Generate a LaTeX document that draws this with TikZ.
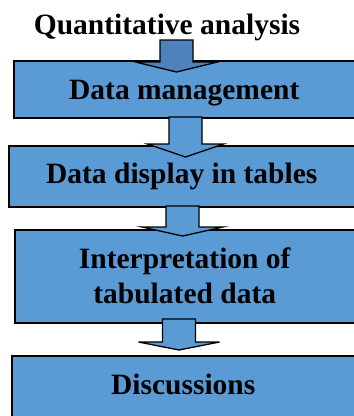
\documentclass[tikz,border=0pt]{standalone}
\usepackage{fontspec}
\setmainfont{Liberation Serif}
\usetikzlibrary{calc}

\definecolor{boxblue}{HTML}{5B9BD5}
\definecolor{darkblue}{HTML}{4F81BD}

\tikzset{
  lbl/.style={font=\bfseries\fontsize{29.5}{35}\selectfont, inner sep=0pt},
  box/.style={lbl, draw=black, line width=1.5pt, fill=boxblue,
              anchor=north west, align=center},
  flowarrow/.style={draw=black, line width=1.3pt, line join=miter},
}

% block arrow: shaft from #1 down to the head base, head ending at #2
% #3 = head depth, #4 = head half-width, #5 = fill colour
\newcommand\blockarrow[5]{%
  \filldraw[flowarrow, fill=#5] let \p1=(#1), \p2=(#2) in
    (\x1-16.5pt,\y1) -- (\x1+16.5pt,\y1) -- (\x1+16.5pt,\y2+#3) --
    (\x1+#4,\y2+#3) -- (\x2,\y2) -- (\x1-#4,\y2+#3) --
    (\x1-16.5pt,\y2+#3) -- cycle;}

\begin{document}
\begin{tikzpicture}[x=1pt, y=-1pt]
  \useasboundingbox (0,0) rectangle (354,416);

  \node[lbl, anchor=base] (qa) at (167,34) {Quantitative analysis};

  \node[box, minimum width=341pt, minimum height=57pt,
        text height=21pt, text depth=0pt] (b1) at (13,60) {Data management};
  \node[box, minimum width=346pt, minimum height=61pt,
        text height=20pt, text depth=5pt] (b2) at (8,145) {Data display in tables};
  \node[box, minimum width=340pt, minimum height=93pt] (b3) at (14,229)
        {Interpretation of\\tabulated data};
  \node[box, minimum width=343pt, minimum height=63pt,
        text height=20pt, text depth=5pt] (b4) at (11,355) {Discussions};

  % arrow start and tip points
  \coordinate (s1) at (176.5,40);  \coordinate (e1) at (176.5,72);
  \coordinate (s2) at (185.5,117); \coordinate (e2) at (185.5,157);
  \coordinate (s3) at (182.5,206); \coordinate (e3) at (182.5,236);
  \coordinate (s4) at (179,319);   \coordinate (e4) at (179,350);

  \blockarrow{s1}{e1}{10pt}{41pt}{darkblue}
  \blockarrow{s2}{e2}{13pt}{38pt}{boxblue}
  \blockarrow{s3}{e3}{9pt}{40.5pt}{boxblue}
  \blockarrow{s4}{e4}{8pt}{40.5pt}{boxblue}
\end{tikzpicture}
\end{document}
